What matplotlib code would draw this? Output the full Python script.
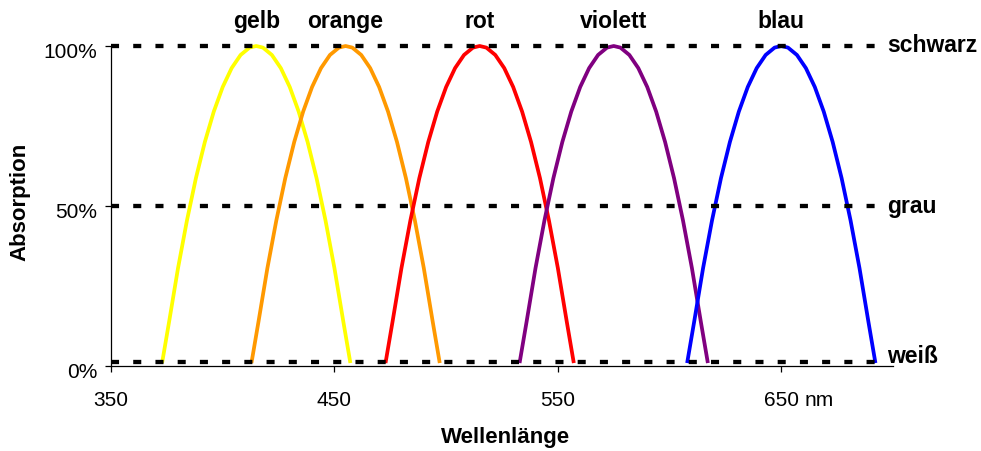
import matplotlib
matplotlib.use("Agg")
import matplotlib.pyplot as plt
import matplotlib.transforms as mtransforms

plt.rcParams['font.family'] = ['Liberation Sans', 'DejaVu Sans']
plt.rcParams['lines.scale_dashes'] = False

# absorption curves (nm, %)
gelb_x = [373, 376, 380, 384, 388, 392, 396, 400, 404, 408, 412, 415,
          418, 422, 426, 430, 434, 438, 442, 446, 450, 454, 457]
orange_x = [413, 416, 420, 424, 428, 432, 436, 440, 444, 448, 452, 455,
            458, 462, 466, 470, 474, 478, 482, 486, 490, 494, 497]
rot_x = [473, 476, 480, 484, 488, 492, 496, 500, 504, 508, 512, 515,
         518, 522, 526, 530, 534, 538, 542, 546, 550, 554, 557]
violett_x = [533, 536, 540, 544, 548, 552, 556, 560, 564, 568, 572, 575,
             578, 582, 586, 590, 594, 598, 602, 606, 610, 614, 617]
blau_x = [608, 611, 615, 619, 623, 627, 631, 635, 639, 643, 647, 650,
          653, 657, 661, 665, 669, 673, 677, 681, 685, 689, 692]

gelb_y = [1.5, 13.8, 30.6, 45.5, 58.7, 70.0, 79.5, 87.2, 93.1, 97.2, 99.5, 100,
          99.5, 97.2, 93.1, 87.2, 79.5, 70.0, 58.7, 45.5, 30.6, 13.8, 1.5]
orange_y = [1.5, 13.8, 30.6, 45.5, 58.7, 70.0, 79.5, 87.2, 93.1, 97.2, 99.5, 100,
            99.5, 97.2, 93.1, 87.2, 79.5, 70.0, 58.7, 45.5, 30.6, 13.8, 1.5]
rot_y = [1.5, 13.8, 30.6, 45.5, 58.7, 70.0, 79.5, 87.2, 93.1, 97.2, 99.5, 100,
         99.5, 97.2, 93.1, 87.2, 79.5, 70.0, 58.7, 45.5, 30.6, 13.8, 1.5]
violett_y = [1.5, 13.8, 30.6, 45.5, 58.7, 70.0, 79.5, 87.2, 93.1, 97.2, 99.5, 100,
             99.5, 97.2, 93.1, 87.2, 79.5, 70.0, 58.7, 45.5, 30.6, 13.8, 1.5]
blau_y = [1.5, 13.8, 30.6, 45.5, 58.7, 70.0, 79.5, 87.2, 93.1, 97.2, 99.5, 100,
          99.5, 97.2, 93.1, 87.2, 79.5, 70.0, 58.7, 45.5, 30.6, 13.8, 1.5]

names = ['gelb', 'orange', 'rot', 'violett', 'blau']
peaks = [415, 455, 515, 575, 650]
colors = ['#FFFF00', '#FF9900', '#FF0000', '#800080', '#0000FF']
curves = [(gelb_x, gelb_y), (orange_x, orange_y), (rot_x, rot_y),
          (violett_x, violett_y), (blau_x, blau_y)]

levels = [100, 50, 1.3]
level_names = ['schwarz', 'grau', 'weiß']
level_text_y = [98.4, 48.1, 1.3]

xticks = [350, 450, 550, 650]
yticks = [0, 50, 100]

fig = plt.figure(figsize=(9.81, 4.52), dpi=100)
ax = fig.add_axes([111 / 981, 85 / 452, 782 / 981, 320 / 452])

for (xs, ys), c in zip(curves, colors):
    ax.plot(xs, ys, color=c, lw=2.7, solid_joinstyle='round', clip_on=False, zorder=2)

for lv in levels:
    ax.hlines(lv, 350, 693.5, colors='black', lw=3.1,
              linestyles=[(0, (5.8, 10.2))], clip_on=False, zorder=3)

for name, px in zip(names, peaks):
    ax.text(px, 106, name, ha='center', va='baseline', fontsize=16.5,
            fontweight='bold', clip_on=False)

for name, ty in zip(level_names, level_text_y):
    ax.text(697.5, ty, name, ha='left', va='baseline', fontsize=16.5,
            fontweight='bold', clip_on=False)

ax.set_xlim(350, 700)
ax.set_ylim(0, 100)
ax.spines['top'].set_visible(False)
ax.spines['right'].set_visible(False)
ax.spines['left'].set_linewidth(0.9)
ax.spines['bottom'].set_linewidth(0.9)

ax.set_xticks(xticks)
ax.set_xticklabels([str(t) for t in xticks])
ax.set_yticks(yticks)
ax.set_yticklabels([f'{t}%' for t in yticks])
ax.tick_params(axis='x', direction='out', length=4.5, width=0.9, pad=13, labelsize=15)
ax.tick_params(axis='y', direction='out', length=4.5, width=0.9, pad=5.5, labelsize=15)

down = mtransforms.ScaledTranslation(0, -4 / 100, fig.dpi_scale_trans)
for lab in ax.get_yticklabels():
    lab.set_transform(lab.get_transform() + down)

# unit after the last tick label
ax.annotate('nm', xy=(650, 0), xycoords='data', xytext=(17, -17.5),
            textcoords='offset points', ha='left', va='top', fontsize=15)

fig.text(20 / 981, 1 - 202 / 452, 'Absorption', rotation=90, ha='center',
         va='center', fontsize=16, fontweight='bold')
fig.text(506 / 981, 1 - 438 / 452, 'Wellenlänge', ha='center', va='center',
         fontsize=16, fontweight='bold')

fig.savefig('out.png', dpi=100)
